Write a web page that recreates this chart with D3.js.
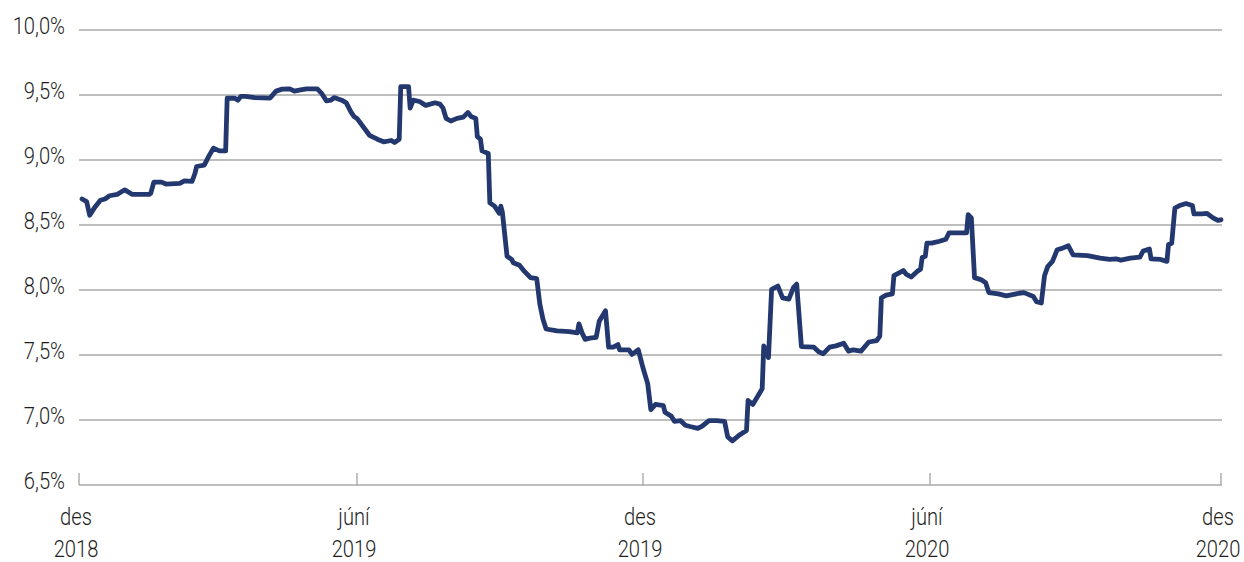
<!DOCTYPE html>
<html>
<head>
<meta charset="utf-8">
<script src="https://cdn.jsdelivr.net/npm/d3@7"></script>
<style>
  html, body { margin: 0; padding: 0; background: #ffffff; }
  svg { display: block; }
  text { font-family: Roboto, "Noto Sans", "DejaVu Sans", sans-serif; font-weight: 300; fill: #1e1e1e; }
</style>
</head>
<body>
<svg id="chart" width="1244" height="562"></svg>
<script>
// ---- data ----
const dates = [
"2018-12-03","2018-12-06","2018-12-08","2018-12-11","2018-12-15","2018-12-18","2018-12-21","2018-12-26","2018-12-28","2018-12-31",
"2019-01-05","2019-01-16","2019-01-17","2019-01-19","2019-01-24","2019-01-27","2019-02-05","2019-02-08","2019-02-13","2019-02-15",
"2019-02-16","2019-02-21","2019-02-24","2019-02-27","2019-03-03","2019-03-07","2019-03-08","2019-03-13","2019-03-15","2019-03-17",
"2019-03-20","2019-03-26","2019-04-05","2019-04-09","2019-04-13","2019-04-18","2019-04-21","2019-04-25","2019-04-29","2019-05-06",
"2019-05-09","2019-05-12","2019-05-15","2019-05-17","2019-05-22","2019-05-25","2019-05-28","2019-05-30","2019-06-01","2019-06-09",
"2019-06-14","2019-06-18","2019-06-23","2019-06-25","2019-06-28","2019-06-29","2019-07-04","2019-07-05","2019-07-07","2019-07-11",
"2019-07-15","2019-07-21","2019-07-24","2019-07-26","2019-07-28","2019-07-31","2019-08-04","2019-08-08","2019-08-11","2019-08-13",
"2019-08-16","2019-08-17","2019-08-19","2019-08-20","2019-08-24","2019-08-25","2019-08-28","2019-08-31","2019-09-01","2019-09-02",
"2019-09-05","2019-09-08","2019-09-09","2019-09-13","2019-09-16","2019-09-20","2019-09-24","2019-09-26","2019-09-28","2019-09-30",
"2019-10-07","2019-10-15","2019-10-20","2019-10-21","2019-10-23","2019-10-25","2019-10-28","2019-11-01","2019-11-03","2019-11-07",
"2019-11-09","2019-11-12","2019-11-15","2019-11-16","2019-11-22","2019-11-24","2019-11-28","2019-12-01","2019-12-04","2019-12-06",
"2019-12-09","2019-12-14","2019-12-15","2019-12-19","2019-12-21","2019-12-25","2019-12-28","2019-12-31","2020-01-05","2020-01-08",
"2020-01-12","2020-01-17","2020-01-22","2020-01-24","2020-01-27","2020-01-31","2020-02-05","2020-02-06","2020-02-09","2020-02-11",
"2020-02-15","2020-02-16","2020-02-19","2020-02-21","2020-02-25","2020-02-28","2020-03-03","2020-03-06","2020-03-08","2020-03-11",
"2020-03-19","2020-03-22","2020-03-25","2020-03-29","2020-04-02","2020-04-07","2020-04-10","2020-04-13","2020-04-18","2020-04-23",
"2020-04-28","2020-04-30","2020-05-01","2020-05-04","2020-05-08","2020-05-09","2020-05-12","2020-05-15","2020-05-17","2020-05-20",
"2020-05-24","2020-05-26","2020-05-27","2020-05-29","2020-05-30","2020-06-02","2020-06-07","2020-06-11","2020-06-13","2020-06-18",
"2020-06-24","2020-06-25","2020-06-27","2020-06-29","2020-07-03","2020-07-06","2020-07-08","2020-07-14","2020-07-19","2020-07-27",
"2020-07-30","2020-08-01","2020-08-05","2020-08-07","2020-08-10","2020-08-12","2020-08-14","2020-08-17","2020-08-20","2020-08-23",
"2020-08-27","2020-08-30","2020-09-08","2020-09-16","2020-09-22","2020-09-26","2020-09-29","2020-10-05","2020-10-11","2020-10-13",
"2020-10-17","2020-10-18","2020-10-24","2020-10-28","2020-10-29","2020-10-31","2020-11-02","2020-11-05","2020-11-09","2020-11-13",
"2020-11-14","2020-11-19","2020-11-22","2020-11-26","2020-11-29","2020-12-01"
];
const rates = [
8.70,8.68,8.575,8.63,8.69,8.70,8.725,8.735,8.75,8.77,
8.735,8.735,8.745,8.83,8.83,8.815,8.82,8.84,8.835,8.90,
8.95,8.96,9.03,9.09,9.07,9.07,9.475,9.475,9.46,9.49,
9.49,9.48,9.476,9.53,9.545,9.547,9.53,9.54,9.547,9.547,
9.51,9.455,9.46,9.48,9.46,9.44,9.37,9.335,9.32,9.19,
9.16,9.14,9.15,9.135,9.16,9.565,9.565,9.40,9.46,9.45,
9.42,9.44,9.43,9.40,9.32,9.30,9.32,9.33,9.365,9.335,
9.32,9.18,9.16,9.07,9.05,8.67,8.645,8.59,8.645,8.60,
8.26,8.235,8.21,8.19,8.145,8.095,8.087,7.89,7.775,7.70,
7.685,7.68,7.67,7.74,7.67,7.62,7.63,7.635,7.76,7.84,
7.56,7.56,7.58,7.54,7.54,7.505,7.54,7.40,7.28,7.08,
7.12,7.11,7.06,7.03,6.99,6.995,6.96,6.95,6.935,6.955,
6.995,6.995,6.99,6.87,6.84,6.88,6.92,7.15,7.12,7.16,
7.24,7.57,7.48,8.005,8.03,7.94,7.93,8.02,8.045,7.565,
7.56,7.525,7.51,7.56,7.57,7.59,7.53,7.54,7.53,7.60,
7.61,7.645,7.94,7.96,7.97,8.11,8.13,8.15,8.12,8.10,
8.145,8.16,8.25,8.26,8.36,8.36,8.375,8.39,8.44,8.44,
8.44,8.58,8.555,8.095,8.08,8.055,7.98,7.97,7.955,7.975,
7.98,7.97,7.95,7.91,7.90,8.11,8.18,8.22,8.31,8.32,
8.34,8.27,8.265,8.245,8.235,8.24,8.23,8.245,8.253,8.30,
8.315,8.24,8.235,8.22,8.35,8.36,8.63,8.65,8.665,8.65,
8.585,8.585,8.59,8.555,8.535,8.54
];
const xTickDates = ["2018-12-01","2019-06-01","2019-12-01","2020-06-01","2020-12-01"];
const xTickMonths = ["des","júní","des","júní","des"];
const xTickYears = ["2018","2019","2019","2020","2020"];
const yTicks = [6.5, 7.0, 7.5, 8.0, 8.5, 9.0, 9.5, 10.0];

// ---- layout ----
const parse = d3.timeParse("%Y-%m-%d");
const tickD = xTickDates.map(parse);
const xStops = [79, 357, 643, 930, 1221];
const x = d3.scaleTime().domain(tickD).range(xStops);
const y = d3.scaleLinear().domain([6.5, 10]).range([485, 30]);
const gridRight = 1222;
const squeeze = 0.84;   // condensed look of the reference typeface
const fontSize = 24;

const svg = d3.select("#chart");
svg.append("rect").attr("width", 1244).attr("height", 562).attr("fill", "#fff");

// gridlines
svg.append("g").selectAll("line").data(yTicks).join("line")
  .attr("x1", xStops[0]).attr("x2", gridRight)
  .attr("y1", d => y(d)).attr("y2", d => y(d))
  .attr("stroke", "#a9a9a9").attr("stroke-width", 1.4);

// y labels
const fmt = d => d3.format(".1f")(d).replace(".", ",") + "%";
svg.append("g").selectAll("text").data(yTicks).join("text")
  .attr("transform", d => `translate(65,${y(d) + 4}) scale(${squeeze},1)`)
  .attr("text-anchor", "end")
  .attr("font-size", fontSize)
  .text(fmt);

// x ticks (upward from baseline)
svg.append("g").selectAll("line").data(tickD).join("line")
  .attr("x1", d => x(d)).attr("x2", d => x(d))
  .attr("y1", y(6.5)).attr("y2", y(6.5) - 12)
  .attr("stroke", "#a9a9a9").attr("stroke-width", 1.4);

// x labels
const xl = svg.append("g").selectAll("text").data(tickD).join("text")
  .attr("transform", d => `translate(${x(d) - 3},0) scale(${squeeze},1)`)
  .attr("text-anchor", "middle")
  .attr("font-size", fontSize);
xl.append("tspan").attr("x", 0).attr("y", 525).text((d, i) => xTickMonths[i]);
xl.append("tspan").attr("x", 0).attr("y", 557).text((d, i) => xTickYears[i]);

// line
const series = dates.map((d, i) => ({ date: parse(d), value: rates[i] }));
svg.append("path").datum(series)
  .attr("fill", "none")
  .attr("stroke", "#23386f")
  .attr("stroke-width", 4.8)
  .attr("stroke-linejoin", "round")
  .attr("stroke-linecap", "round")
  .attr("d", d3.line().x(d => x(d.date)).y(d => y(d.value)));
</script>
</body>
</html>
